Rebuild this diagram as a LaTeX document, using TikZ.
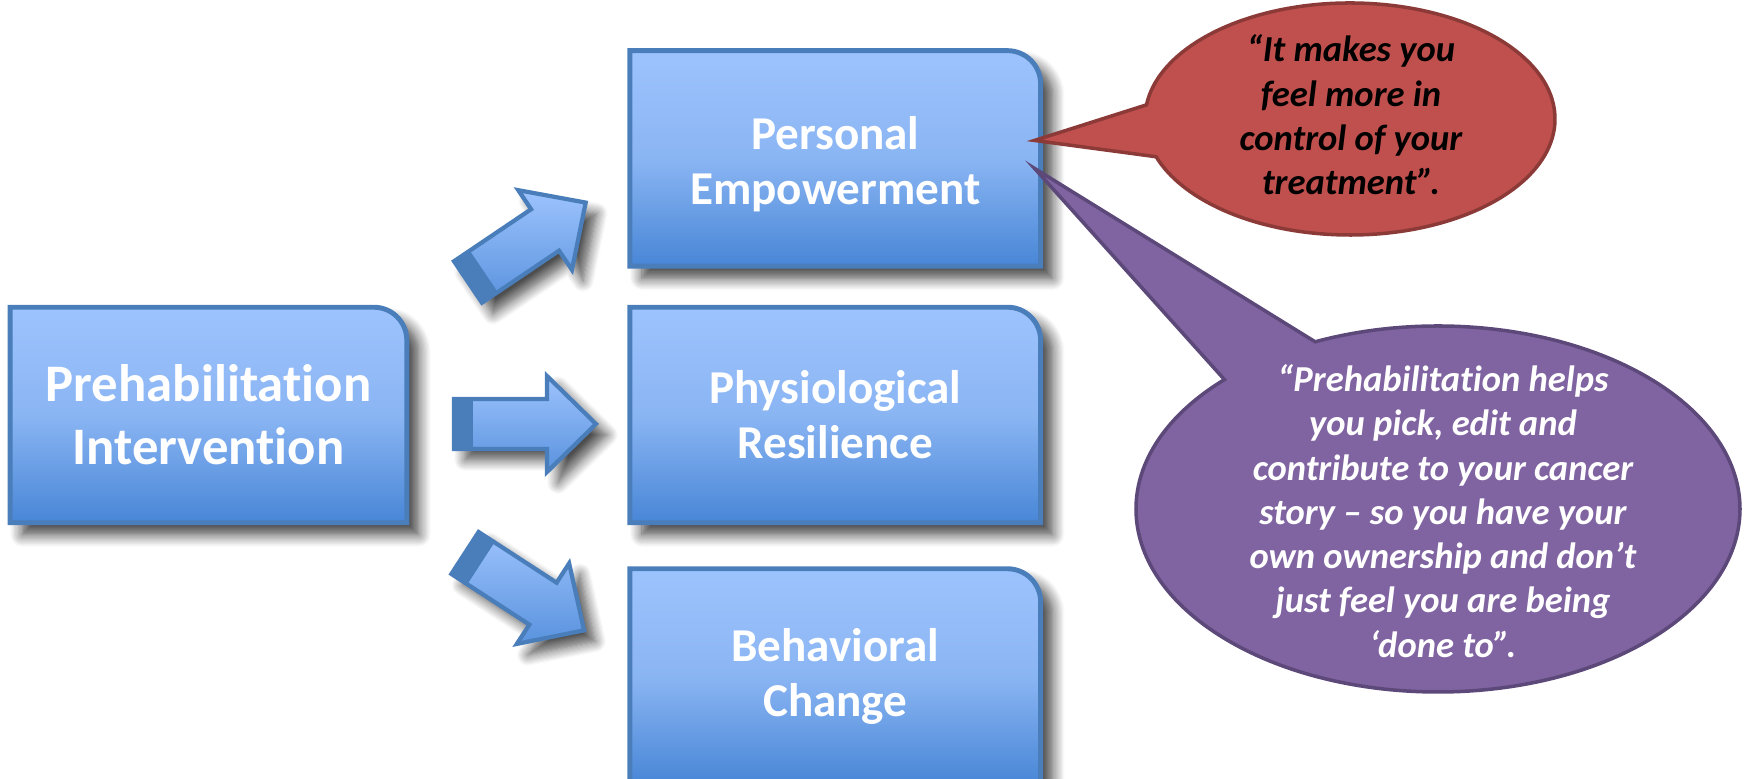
\documentclass[tikz,border=0pt]{standalone}
\usepackage{fontspec}
\setmainfont{Carlito}[Ligatures=NoCommon]
\usepackage{tikz}
\usetikzlibrary{positioning, calc, shadows.blur}
\definecolor{boxline}{RGB}{74,126,187}
\definecolor{boxtop}{RGB}{157,195,253}
\definecolor{boxmid}{RGB}{138,181,243}
\definecolor{boxbot}{RGB}{72,134,214}
\definecolor{redfill}{RGB}{192,80,77}
\definecolor{redline}{RGB}{140,58,56}
\definecolor{purfill}{RGB}{128,100,162}
\definecolor{purline}{RGB}{92,72,121}
\tikzset{
  boxnode/.style={minimum width=4.09cm, minimum height=2.14cm, inner sep=0pt},
  boxtext/.style={align=center, text=white, font=\bfseries\fontsize{13.4}{15.6}\selectfont},
  boxshape/.style={draw=boxline, line width=1.4pt, top color=boxtop, bottom color=boxbot, middle color=boxmid,
    blur shadow={shadow xshift=1.2mm, shadow yshift=-1.2mm, shadow blur radius=1.2mm, shadow blur steps=10, shadow opacity=75}},
  blockarrow/.style={draw=boxline, line width=1.2pt, top color=boxtop, bottom color=boxbot!80!boxtop,
    blur shadow={shadow xshift=1.1mm, shadow yshift=-1.1mm, shadow blur radius=1.1mm, shadow blur steps=10, shadow opacity=70}},
  quote/.style={align=center, font=\bfseries\itshape\fontsize{10.4}{12.6}\selectfont},
  redcall/.style={fill=redfill, draw=redline, line width=1pt},
  purcall/.style={fill=purfill, draw=purline, line width=1pt}
}

\begin{document}
\begin{tikzpicture}[x=0.01cm, y=0.01cm]
\useasboundingbox (0,0) rectangle (1744,779);
\node[boxnode, minimum width=3.95cm] (interv) at (208.5,364) {};
\node[boxnode, right=2.23cm of interv] (phys) {};
\node[boxnode, above=0.41cm of phys] (pers) {};
\node[boxnode, below=0.46cm of phys] (behav) {};

% boxes with one round corner
\foreach \bx in {interv,phys,pers,behav}
  \draw[boxshape] (\bx.south west) -- (\bx.north west) -- ([xshift=-3.3mm]\bx.north east)
    arc[start angle=90, end angle=0, radius=3.3mm] -- (\bx.south east) -- cycle;

\node[boxtext, font=\bfseries\fontsize{15}{17.9}\selectfont] (interv-txt) at (interv) {Prehabilitation\\Intervention};
\node[boxtext] (phys-txt) at (phys) {Physiological\\Resilience};
\node[boxtext] (pers-txt) at ([yshift=-0.06cm]pers) {Personal\\Empowerment};
\node[boxtext] (behav-txt) at (behav) {Behavioral\\Change};

% block arrows
\foreach \x/\y/\a in {468/497/34, 454/355/0, 465/226/-33}{
  \draw[blockarrow] ($(\x,\y)+(\a-90:25)$) -- ++(\a:93) -- ++(\a-90:23) -- ($(\x,\y)+(\a:142)$)
    -- ($(\x,\y)+(\a:93)+(\a+90:48)$) -- ++(\a-90:23) -- ($(\x,\y)+(\a+90:25)$) -- cycle;
  \fill[boxline] ($(\x,\y)+(\a-90:25)$) -- ++(\a:19) -- ++(\a+90:50) -- ($(\x,\y)+(\a+90:25)$) -- cycle;
}

% callouts
\coordinate (redc) at (1350,660);
\coordinate (redtip) at ($(pers.east)+(-6,18)$);
\draw[redcall] (redtip) -- ([shift={(173:205 and 116)}]redc)
  arc[start angle=173, end angle=-161, x radius=205, y radius=116] -- cycle;
\coordinate (purc) at (1438,270);
\coordinate (purtip) at ($(pers.east)+(-6,-10)$);
\draw[purcall] (purtip) -- ([shift={(135:302 and 183)}]purc)
  arc[start angle=135, end angle=474, x radius=302, y radius=183] -- cycle;

\node[quote] (redq) at (1351,664) {“It makes you\\feel more in\\control of your\\treatment”.};
\node[quote, text=white] (purq) at (1443,268) {“Prehabilitation helps\\you pick, edit and\\contribute to your cancer\\story – so you have your\\own ownership and don’t\\just feel you are being\\‘done to”.};
\end{tikzpicture}
\end{document}
